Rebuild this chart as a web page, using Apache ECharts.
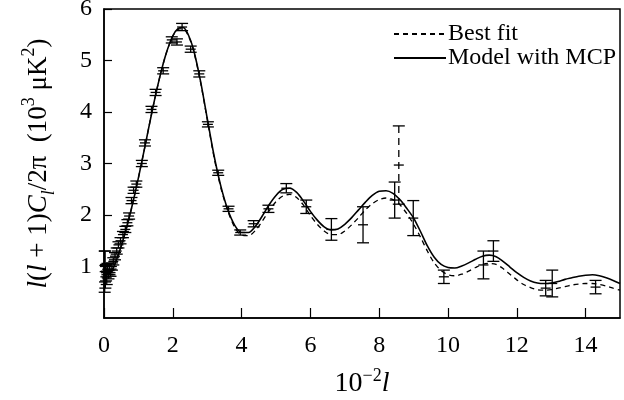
<!DOCTYPE html>
<html>
<head>
    <meta charset="utf-8" />
    <title>CMB TT spectrum</title>
    <script src="https://cdn.jsdelivr.net/npm/echarts/dist/echarts.min.js"></script>
</head>
<body style="margin:0">
<div id="main" style="width:624px;height:400px;"></div>
<script type="text/javascript">
    // model curves, x in units of 10^2 l, y in 10^3 uK^2
    var ellCurve = [0.02, 0.1, 0.2, 0.3, 0.4, 0.5, 0.6, 0.7, 0.8, 0.9, 1.0, 1.2, 1.4, 1.6, 1.8, 2.0, 2.15, 2.3, 2.45, 2.6,
        2.8, 3.0, 3.2, 3.4, 3.6, 3.8, 4.0, 4.2, 4.4, 4.6, 4.8, 5.0, 5.2, 5.4, 5.6, 5.8, 6.0, 6.2, 6.4, 6.6,
        6.8, 7.0, 7.2, 7.4, 7.6, 7.8, 8.0, 8.2, 8.4, 8.6, 8.8, 9.0, 9.2, 9.4, 9.6, 9.8, 10.0, 10.2, 10.4, 10.6,
        10.8, 11.0, 11.2, 11.4, 11.6, 11.8, 12.0, 12.2, 12.4, 12.6, 12.8, 13.0, 13.2, 13.4, 13.6, 13.8, 14.0, 14.2, 14.4, 14.6,
        14.8, 15.0];
    var modelMCP = [0.95, 0.86, 0.88, 1.02, 1.2, 1.4, 1.62, 1.86, 2.13, 2.42, 2.72, 3.36, 4.02, 4.62, 5.12, 5.48, 5.62, 5.64, 5.5, 5.22,
        4.62, 3.88, 3.15, 2.55, 2.1, 1.8, 1.66, 1.66, 1.78, 1.98, 2.2, 2.38, 2.5, 2.52, 2.44, 2.27, 2.07, 1.9, 1.77, 1.71,
        1.73, 1.82, 1.95, 2.1, 2.25, 2.38, 2.46, 2.47, 2.42, 2.3, 2.13, 1.94, 1.68, 1.4, 1.18, 1.04, 0.98, 0.97, 1.01, 1.07,
        1.14, 1.2, 1.22, 1.19, 1.1, 0.99, 0.88, 0.79, 0.72, 0.68, 0.67, 0.68, 0.71, 0.75, 0.78, 0.81, 0.83, 0.84, 0.82, 0.78,
        0.73, 0.67];
    var bestFit = [0.95, 0.86, 0.88, 1.02, 1.2, 1.4, 1.62, 1.86, 2.13, 2.42, 2.72, 3.36, 4.02, 4.62, 5.12, 5.47, 5.6, 5.62, 5.48, 5.2,
        4.6, 3.86, 3.12, 2.52, 2.08, 1.76, 1.61, 1.6, 1.7, 1.88, 2.08, 2.26, 2.37, 2.4, 2.34, 2.19, 1.99, 1.82, 1.69, 1.62,
        1.62, 1.69, 1.81, 1.95, 2.1, 2.22, 2.3, 2.33, 2.3, 2.2, 2.03, 1.82, 1.57, 1.3, 1.07, 0.92, 0.84, 0.82, 0.85, 0.91,
        0.98, 1.04, 1.06, 1.04, 0.96, 0.85, 0.74, 0.65, 0.59, 0.55, 0.54, 0.55, 0.58, 0.61, 0.64, 0.66, 0.67, 0.67, 0.65, 0.62,
        0.58, 0.54];

    // measured band powers with symmetric errors
    var ptX = [0.02, 0.03, 0.04, 0.06, 0.08, 0.10, 0.13, 0.16, 0.19, 0.23, 0.27, 0.32, 0.37, 0.42, 0.48, 0.55, 0.62, 0.68, 0.73, 0.80,
        0.86, 0.94, 1.10, 1.19, 1.38, 1.50, 1.72, 1.97, 2.12, 2.27, 2.52, 2.77, 3.02, 3.32, 3.62, 3.96, 4.35, 4.78, 5.30, 5.88,
        6.61, 7.53, 8.45, 8.99, 9.88, 11.03, 11.32, 12.84, 13.03, 14.29];
    var ptY = [0.90, 1.00, 0.80, 0.88, 0.78, 0.95, 0.85, 0.92, 0.88, 1.00, 1.10, 1.20, 1.30, 1.42, 1.50, 1.62, 1.72, 1.85, 1.98, 2.28,
        2.48, 2.60, 3.00, 3.40, 4.05, 4.38, 4.80, 5.40, 5.36, 5.65, 5.22, 4.74, 3.76, 2.82, 2.12, 1.66, 1.83, 2.12, 2.52, 2.16,
        1.72, 1.81, 2.29, 1.94, 0.80, 1.03, 1.30, 0.58, 0.67, 0.60];
    var ptErr = [0.40, 0.30, 0.22, 0.16, 0.13, 0.11, 0.09, 0.08, 0.07, 0.07, 0.07, 0.07, 0.06, 0.06, 0.06, 0.06, 0.06, 0.06, 0.06, 0.06,
        0.06, 0.06, 0.06, 0.06, 0.06, 0.06, 0.06, 0.06, 0.06, 0.07, 0.06, 0.06, 0.05, 0.05, 0.05, 0.05, 0.06, 0.07, 0.09, 0.13,
        0.21, 0.35, 0.35, 0.34, 0.13, 0.27, 0.20, 0.15, 0.26, 0.13];
    // the one point drawn with a dashed bar
    var dashX = [8.57];
    var dashY = [2.97];
    var dashErr = [0.76];

    var xTicks = [0, 2, 4, 6, 8, 10, 12, 14];
    var yTicks = [1, 2, 3, 4, 5, 6];

    var serif = 'Liberation Serif';

    function zip3(a, b, c) {
        return a.map(function (v, i) { return [v, b[i], c[i]]; });
    }

    function errorBar(dashed) {
        return function (params, api) {
            var x = api.value(0), y = api.value(1), e = api.value(2);
            var hi = api.coord([x, y + e]);
            var lo = api.coord([x, y - e]);
            var mid = api.coord([x, y]);
            var solid = {stroke: '#000', lineWidth: 1.3};
            var bar = {stroke: '#000', lineWidth: 1.3, lineDash: dashed ? [7, 5] : null};
            function seg(x1, y1, x2, y2, s) {
                return {type: 'line', shape: {x1: x1, y1: y1, x2: x2, y2: y2}, style: s};
            }
            return {
                type: 'group',
                children: [
                    seg(hi[0], hi[1], lo[0], lo[1], bar),
                    seg(hi[0] - 6, hi[1], hi[0] + 6, hi[1], solid),
                    seg(lo[0] - 6, lo[1], lo[0] + 6, lo[1], solid),
                    seg(mid[0] - 5, mid[1], mid[0] + 5, mid[1], solid)
                ]
            };
        };
    }

    var myChart = echarts.init(document.getElementById('main'));

    var option = {
        animation: false,
        grid: {
            left: 104, right: 4, top: 9, bottom: 82,
            outerBoundsMode: 'none',
            containLabel: false,
            show: true, borderColor: '#000', borderWidth: 1.5
        },
        legend: {
            left: 393, top: 22,
            padding: 0,
            orient: 'vertical',
            itemWidth: 52, itemHeight: 14, itemGap: 0,
            itemStyle: {opacity: 0},
            textStyle: {fontFamily: serif, fontSize: 24, color: '#000', lineHeight: 22, padding: [0, 0, 0, -3]},
            data: ['Best fit', 'Model with MCP']
        },
        xAxis: {
            type: 'value',
            min: 0, max: 15, interval: 2,
            name: '10{sup|\u22122}{i|l}',
            nameLocation: 'middle',
            nameGap: 49,
            nameTextStyle: {
                fontFamily: serif, fontSize: 28, color: '#000', lineHeight: 34,
                rich: {
                    sup: {fontFamily: serif, fontSize: 18, verticalAlign: 'top', lineHeight: 18},
                    i: {fontFamily: serif, fontSize: 28, fontStyle: 'italic', lineHeight: 34}
                }
            },
            axisLine: {lineStyle: {color: '#000', width: 1.5}},
            axisTick: {inside: true, length: 10, lineStyle: {color: '#000', width: 1.2}},
            axisLabel: {
                fontFamily: serif, fontSize: 24, color: '#000', margin: 16,
                showMaxLabel: false,
                formatter: function (v) { return xTicks.indexOf(v) >= 0 ? String(v) : ''; }
            },
            splitLine: {show: false}
        },
        yAxis: {
            type: 'value',
            min: 0, max: 6, interval: 1,
            name: '{i|l}({i|l} + 1){i|C}{sub|l}/2\u03c0  (10{sup|3} \u03bcK{sup|2})',
            nameLocation: 'middle',
            nameGap: 46,
            nameTextStyle: {
                fontFamily: serif, fontSize: 27, color: '#000', lineHeight: 38,
                rich: {
                    sup: {fontFamily: serif, fontSize: 18, verticalAlign: 'top', lineHeight: 18},
                    sub: {fontFamily: serif, fontSize: 18, fontStyle: 'italic', verticalAlign: 'bottom', lineHeight: 18},
                    i: {fontFamily: serif, fontSize: 27, fontStyle: 'italic', lineHeight: 38}
                }
            },
            axisLine: {lineStyle: {color: '#000', width: 1.5}},
            axisTick: {inside: true, length: 8, lineStyle: {color: '#000', width: 1.2}},
            axisLabel: {
                fontFamily: serif, fontSize: 24, color: '#000', margin: 12,
                showMinLabel: false,
                formatter: function (v) { return yTicks.indexOf(v) >= 0 ? String(v) : ''; }
            },
            splitLine: {show: false}
        },
        series: [
            {
                name: 'Best fit',
                type: 'line',
                smooth: 0.3,
                symbol: 'none',
                lineStyle: {color: '#000', width: 1.3, type: [5, 4]},
                itemStyle: {color: '#000'},
                data: ellCurve.map(function (x, i) { return [x, bestFit[i]]; })
            },
            {
                name: 'Model with MCP',
                type: 'line',
                smooth: 0.3,
                symbol: 'none',
                lineStyle: {color: '#000', width: 1.6},
                itemStyle: {color: '#000'},
                data: ellCurve.map(function (x, i) { return [x, modelMCP[i]]; })
            },
            {
                name: 'data',
                type: 'custom',
                renderItem: errorBar(false),
                encode: {x: 0, y: 1},
                data: zip3(ptX, ptY, ptErr)
            },
            {
                name: 'data2',
                type: 'custom',
                renderItem: errorBar(true),
                encode: {x: 0, y: 1},
                data: zip3(dashX, dashY, dashErr)
            }
        ]
    };

    myChart.setOption(option);
</script>
</body>
</html>
